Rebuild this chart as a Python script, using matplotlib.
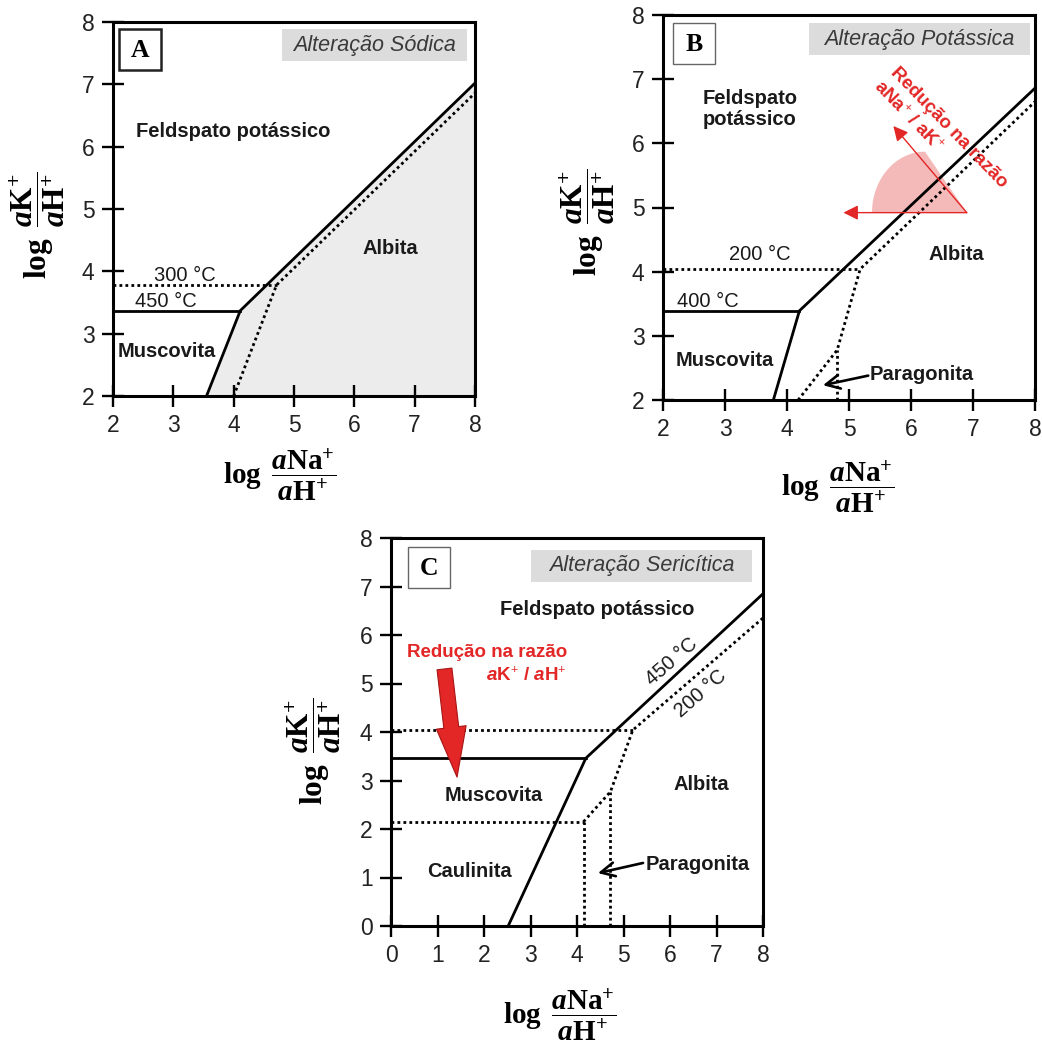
import numpy as np
import matplotlib
matplotlib.use("Agg")
import matplotlib.pyplot as plt
from matplotlib.patches import Rectangle, Polygon, FancyArrowPatch

plt.rcParams['font.family'] = ['Liberation Sans', 'DejaVu Sans']
plt.rcParams['mathtext.fontset'] = 'custom'
plt.rcParams['mathtext.rm'] = 'Liberation Serif:bold'
plt.rcParams['mathtext.it'] = 'Liberation Serif:bold:italic'
plt.rcParams['mathtext.bf'] = 'Liberation Serif:bold'
plt.rcParams['mathtext.sf'] = 'Liberation Sans:bold:italic'

# Painel A - alteração sódica (450 °C linha cheia, 300 °C pontilhada)
a_ticks = [2, 3, 4, 5, 6, 7, 8]
a_ab_x = [3.55, 4.11, 8.0]
a_ab_y = [2.0, 3.37, 7.02]
a_musc_x = [2.0, 4.11]
a_musc_y = [3.37, 3.37]
a_300_x = [4.0, 4.71, 8.0]
a_300_y = [2.0, 3.78, 6.86]
a_300h_x = [2.0, 4.71]
a_300h_y = [3.78, 3.78]

# Painel B - alteração potássica (400 °C cheia, 200 °C pontilhada)
b_ticks = [2, 3, 4, 5, 6, 7, 8]
b_ab_x = [3.78, 4.20, 8.0]
b_ab_y = [2.0, 3.39, 6.86]
b_musc_x = [2.0, 4.20]
b_musc_y = [3.39, 3.39]
b_200_x = [4.18, 4.81, 5.18, 8.0]
b_200_y = [2.0, 2.78, 4.04, 6.65]
b_200h_x = [2.0, 5.18]
b_200h_y = [4.04, 4.04]
b_pg_x = [4.81, 4.81]
b_pg_y = [2.0, 2.78]

# Painel C - alteração sericítica (450 °C cheia, 200 °C pontilhada)
c_ticks = [0, 1, 2, 3, 4, 5, 6, 7, 8]
c_ab_x = [2.52, 4.19, 8.0]
c_ab_y = [0.0, 3.46, 6.85]
c_musc_x = [0.0, 4.19]
c_musc_y = [3.46, 3.46]
c_200_x = [4.14, 4.72, 5.20, 8.0]
c_200_y = [2.15, 2.77, 4.04, 6.35]
c_200h_x = [0.0, 5.20]
c_200h_y = [4.04, 4.04]
c_kaol_x = [0.0, 4.14]
c_kaol_y = [2.15, 2.15]
c_v1_x = [4.14, 4.14]
c_v1_y = [0.0, 2.15]
c_v2_x = [4.72, 4.72]
c_v2_y = [0.0, 2.77]

RED = '#e32626'
DOT = (0, (1, 1.15))

W, H = 1042, 1043
fig = plt.figure(figsize=(W / 100, H / 100), dpi=100)


def px_axes(left, top, right, bottom):
    return fig.add_axes([left / W, 1 - bottom / H, (right - left) / W, (bottom - top) / H])


def px_rect(x0, y0, x1, y1, **kw):
    fig.add_artist(Rectangle((x0 / W, 1 - y1 / H), (x1 - x0) / W, (y1 - y0) / H,
                             transform=fig.transFigure, **kw))


def px_text(x, y, s, **kw):
    fig.text(x / W, 1 - y / H, s, **kw)


def style(ax, ticks):
    ax.set_xlim(ticks[0], ticks[-1])
    ax.set_ylim(ticks[0], ticks[-1])
    ax.set_xticks(ticks)
    ax.set_yticks(ticks)
    ax.tick_params(direction='inout', length=15.5, width=1.7, labelsize=16.5,
                   pad=5.5, labelcolor='#222222')
    for s in ax.spines.values():
        s.set_linewidth(2.2)


def labels(ax, ylx, yly, xlx, xly):
    ax.text(ylx, yly, r'$\log\ \dfrac{a\mathrm{K}^{+}}{a\mathrm{H}^{+}}$', transform=ax.transAxes,
            rotation=90, ha='center', va='center', fontsize=22.5)
    ax.text(xlx, xly, r'$\log\ \dfrac{a\mathrm{Na}^{+}}{a\mathrm{H}^{+}}$', transform=ax.transAxes,
            ha='center', va='center', fontsize=21)


def tag(box, letter, lw, title_box, title):
    px_rect(*box, facecolor='white', edgecolor='#222222' if lw > 1.2 else '#666666', lw=lw)
    px_text((box[0] + box[2]) / 2, (box[1] + box[3]) / 2 + 1, letter, family='Liberation Serif',
            weight='bold', fontsize=18.5, ha='center', va='center')
    px_rect(*title_box, facecolor='#dcdcdc', edgecolor='none')
    px_text((title_box[0] + title_box[2]) / 2, (title_box[1] + title_box[3]) / 2, title,
            style='italic', fontsize=15.5, color='#3a3a3a', ha='center', va='center')


bold = dict(fontsize=14.5, weight='bold', color='#1a1a1a')
reg = dict(fontsize=14.5, color='#1a1a1a')
lw_line = 2.0
lw_dot = 2.0

# ---------------- Painel A ----------------
ax = px_axes(113, 22, 475, 396)
style(ax, a_ticks)
ax.fill(a_ab_x + [a_ticks[-1]], a_ab_y + [a_ticks[0]], color='#ececec', zorder=1)
ax.plot(a_ab_x, a_ab_y, color='black', lw=lw_line, zorder=3)
ax.plot(a_musc_x, a_musc_y, color='black', lw=lw_line, zorder=3)
ax.plot(a_300_x, a_300_y, color='black', lw=lw_dot, ls=DOT, zorder=3)
ax.plot(a_300h_x, a_300h_y, color='black', lw=lw_dot, ls=DOT, zorder=3)
ax.text(2.38, 6.24, 'Feldspato potássico', ha='left', va='center', **bold)
ax.text(6.59, 4.36, 'Albita', ha='center', va='center', **bold)
ax.text(2.07, 2.71, 'Muscovita', ha='left', va='center', **bold)
ax.text(3.19, 3.93, '300 °C', ha='center', va='center', **reg)
ax.text(2.87, 3.51, '450 °C', ha='center', va='center', **reg)
labels(ax, -0.211, 0.457, 0.461, -0.211)
tag((119, 29, 161, 70), 'A', 1.8, (282, 29, 467, 61), 'Alteração Sódica')

# ---------------- Painel B ----------------
ax = px_axes(663, 15, 1035, 400)
style(ax, b_ticks)
ax.plot(b_ab_x, b_ab_y, color='black', lw=lw_line, zorder=3)
ax.plot(b_musc_x, b_musc_y, color='black', lw=lw_line, zorder=3)
ax.plot(b_200_x, b_200_y, color='black', lw=lw_dot, ls=DOT, zorder=3)
ax.plot(b_200h_x, b_200h_y, color='black', lw=lw_dot, ls=DOT, zorder=3)
ax.plot(b_pg_x, b_pg_y, color='black', lw=lw_dot, ls=DOT, zorder=3)

# setor rosado e setas vermelhas
vx, vy = 6.90, 4.92
ecx, ea, eb = 6.226, 0.855, 0.95
t = np.linspace(np.pi, np.pi / 2, 40)
arc = np.column_stack([ecx + ea * np.cos(t), vy + eb * np.sin(t)])
ax.add_patch(Polygon(np.vstack([[vx, vy], arc]), closed=True, facecolor='#f3b3b3',
                     edgecolor='none', alpha=0.9, zorder=2))
for tip in [(4.91, 4.92), (5.715, 6.27)]:
    ax.annotate('', xy=tip, xytext=(vx, vy),
                arrowprops=dict(arrowstyle='-|>', color=RED, lw=1.0, mutation_scale=22,
                                shrinkA=0, shrinkB=0), zorder=4)
ax.text(5.66, 7.10, 'Redução na razão', rotation=-46, rotation_mode='anchor',
        ha='left', va='baseline', fontsize=13.5, weight='bold', color=RED)
ax.text(5.39, 6.88, r'aNa$^{+}$ / aK$^{+}$', rotation=-46, rotation_mode='anchor',
        ha='left', va='baseline', fontsize=13.5, weight='bold', color=RED)

ax.text(2.64, 6.54, 'Feldspato\npotássico', ha='left', va='center', linespacing=1.15, **bold)
ax.text(6.73, 4.26, 'Albita', ha='center', va='center', **bold)
ax.text(2.2, 2.62, 'Muscovita', ha='left', va='center', **bold)
ax.text(5.34, 2.39, 'Paragonita', ha='left', va='center', **bold)
ax.annotate('', xy=(4.58, 2.23), xytext=(5.31, 2.38),
            arrowprops=dict(arrowstyle='->', color='black', lw=1.9, mutation_scale=25,
                            shrinkA=0, shrinkB=0))
ax.text(3.56, 4.26, '200 °C', ha='center', va='center', **reg)
ax.text(2.73, 3.53, '400 °C', ha='center', va='center', **reg)
labels(ax, -0.204, 0.462, 0.470, -0.226)
tag((673, 23, 715, 64), 'B', 1.0, (809, 23, 1030, 55), 'Alteração Potássica')

# ---------------- Painel C ----------------
ax = px_axes(391, 538, 763, 926)
style(ax, c_ticks)
ax.plot(c_ab_x, c_ab_y, color='black', lw=lw_line, zorder=3)
ax.plot(c_musc_x, c_musc_y, color='black', lw=lw_line, zorder=3)
for xs, ys in [(c_200_x, c_200_y), (c_200h_x, c_200h_y), (c_kaol_x, c_kaol_y),
               (c_v1_x, c_v1_y), (c_v2_x, c_v2_y)]:
    ax.plot(xs, ys, color='black', lw=lw_dot, ls=DOT, zorder=3)

ax.add_patch(FancyArrowPatch((1.15, 5.30), (1.42, 3.07),
                             arrowstyle='simple,head_length=0.72,head_width=0.43,tail_width=0.215',
                             mutation_scale=50, facecolor=RED, edgecolor='#a81414', lw=0.8,
                             shrinkA=0, shrinkB=0, zorder=5))
ax.text(3.785, 5.63, 'Redução na razão', ha='right', va='center', fontsize=13.5,
        weight='bold', color=RED)
ax.text(3.785, 5.175, r'$\mathsf{a}$K$^{+}$ / $\mathsf{a}$H$^{+}$', ha='right', va='center',
        fontsize=13.5, weight='bold', color=RED)

ax.text(4.43, 6.53, 'Feldspato potássico', ha='center', va='center', **bold)
ax.text(2.20, 2.70, 'Muscovita', ha='center', va='center', **bold)
ax.text(1.68, 1.12, 'Caulinita', ha='center', va='center', **bold)
ax.text(6.68, 2.92, 'Albita', ha='center', va='center', **bold)
ax.text(5.48, 1.26, 'Paragonita', ha='left', va='center', **bold)
ax.annotate('', xy=(4.45, 1.09), xytext=(5.42, 1.30),
            arrowprops=dict(arrowstyle='->', color='black', lw=1.9, mutation_scale=25,
                            shrinkA=0, shrinkB=0))
ax.text(6.04, 5.46, '450 °C', rotation=41, ha='center', va='center', **reg)
ax.text(6.65, 4.80, '200 °C', rotation=41, ha='center', va='center', **reg)
labels(ax, -0.21, 0.451, 0.454, -0.229)
tag((408, 547, 450, 588), 'C', 1.0, (531, 550, 752, 582), 'Alteração Sericítica')

fig.savefig('out.png', dpi=100, facecolor='white')
